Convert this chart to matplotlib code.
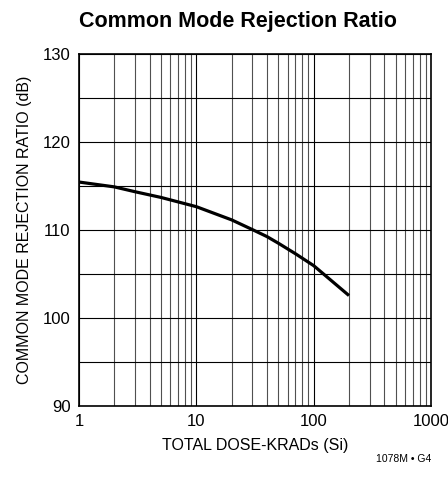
import numpy as np
import matplotlib
matplotlib.use("Agg")
import matplotlib.pyplot as plt
from matplotlib.ticker import FixedLocator, NullFormatter

plt.rcParams['font.family'] = ['Liberation Sans', 'DejaVu Sans']

dose = [1, 2, 3, 5, 10, 20, 30, 40, 50, 70, 100, 140, 200]
cmrr = [115.45, 114.9, 114.35, 113.7, 112.65, 111.15, 110.05, 109.25, 108.5, 107.3, 105.95, 104.3, 102.55]

xticks = [1, 10, 100, 1000]
yticks = [90, 100, 110, 120, 130]

fig = plt.figure(figsize=(4.48, 4.86), dpi=100)
ax = fig.add_axes([79/448, 80/486, 352/448, 352/486])

ax.plot(dose, cmrr, color="black", lw=2.3, solid_capstyle="butt", zorder=3)

ax.set_xscale("log")
ax.set_xlim(1, 1000)
ax.set_ylim(90, 130)

ax.xaxis.set_major_locator(FixedLocator(xticks))
ax.set_xticklabels([str(t) for t in xticks])
minors = [m * d for d in [1, 10, 100] for m in range(2, 10)]
ax.xaxis.set_minor_locator(FixedLocator(minors))
ax.xaxis.set_minor_formatter(NullFormatter())
ax.set_yticks(yticks)
ax.set_yticks(np.arange(95, 130, 10), minor=True)

ax.grid(True, which="major", color="black", lw=0.8)
ax.yaxis.grid(True, which="minor", color="black", lw=0.8)
ax.xaxis.grid(True, which="minor", color="#505050", lw=0.8)
ax.tick_params(which="both", length=0, labelsize=12, pad=6)
for s in ax.spines.values():
    s.set_linewidth(1.2)

ax.set_xlabel("TOTAL DOSE-KRADs (Si)", fontsize=11.5, labelpad=6)
ax.set_ylabel("COMMON MODE REJECTION RATIO (dB)", fontsize=11.5, labelpad=8)
fig.text(238/448, 1 - 22/486, "Common Mode Rejection Ratio", ha="center", va="center",
         fontsize=15.5, fontweight="bold")
fig.text(431/448, 1 - 459/486, "1078M • G4", ha="right", va="center", fontsize=7.5)

fig.savefig("out.png", dpi=100)
